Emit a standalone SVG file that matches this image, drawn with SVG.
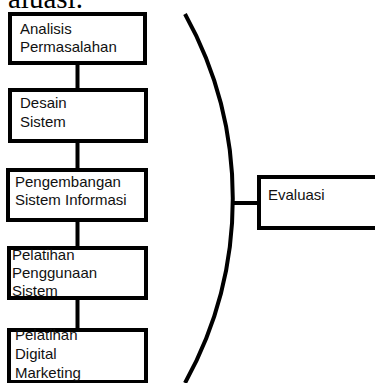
<svg xmlns="http://www.w3.org/2000/svg" width="375" height="383" viewBox="0 0 375 383">
<style>
.box{fill:#fff;stroke:#000;stroke-width:4}
.t{font-family:"Liberation Sans",Arial,sans-serif;font-size:15px;fill:#111}
.ln{stroke:#000;stroke-width:4;fill:none}
</style>
<rect width="375" height="383" fill="#fff"/>
<text x="8" y="8" font-family="Liberation Serif,serif" font-size="29" fill="#000">aluasi.</text>
<g id="connectors">
<line class="ln" x1="77.5" y1="64" x2="77.5" y2="89"/>
<line class="ln" x1="77.5" y1="142" x2="77.5" y2="169"/>
<line class="ln" x1="77.5" y1="221" x2="77.5" y2="247"/>
<line class="ln" x1="77.5" y1="299" x2="77.5" y2="329"/>
<path class="ln" stroke-width="4.5" d="M185,14 A380,380 0 0 1 185,383"/>
<line class="ln" stroke-width="3" x1="231" y1="203" x2="259" y2="203"/>
</g>
<g id="n1"><rect class="box" x="10" y="14" width="135" height="49"/>
<text class="t" x="20" y="34">Analisis</text><text class="t" x="20" y="52">Permasalahan</text></g>
<g id="n2"><rect class="box" x="10" y="90" width="136" height="51"/>
<text class="t" x="20" y="108">Desain</text><text class="t" x="20" y="127">Sistem</text></g>
<g id="n3"><rect class="box" x="8" y="170" width="138" height="50"/>
<text class="t" x="15" y="187">Pengembangan</text><text class="t" x="15" y="205">Sistem Informasi</text></g>
<g id="n4"><rect class="box" x="9" y="248" width="137" height="50"/>
<text class="t" x="12" y="260">Pelatihan</text><text class="t" x="12" y="278">Penggunaan</text><text class="t" x="12" y="296">Sistem</text></g>
<g id="n5"><rect class="box" x="9" y="330" width="137" height="52"/>
<text class="t" x="15" y="340">Pelatihan</text><text class="t" x="15" y="359">Digital</text><text class="t" x="15" y="378">Marketing</text></g>
<g id="n6"><rect class="box" x="259" y="177" width="130" height="51"/>
<text class="t" x="268" y="200" font-size="14.5">Evaluasi</text></g>
</svg>
